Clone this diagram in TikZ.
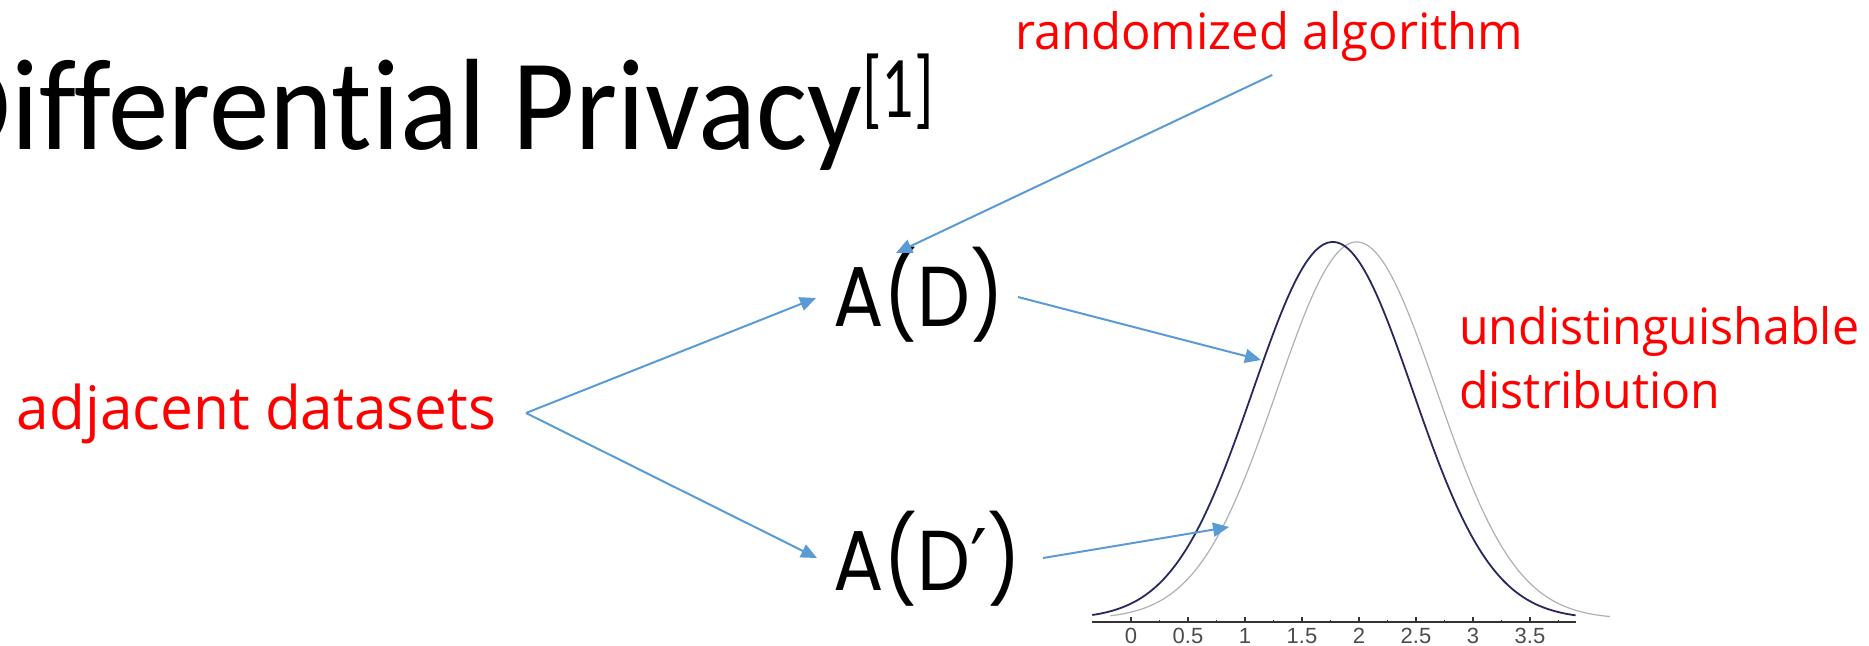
\documentclass[tikz,border=0pt]{standalone}
\usepackage{fontspec}
\setmainfont{Carlito}[Ligatures={NoCommon,NoRare}]
\newfontfamily\labelfont{Open Sans}
\newfontfamily\mechfont{Poppins}
\newfontfamily\axisfont{Liberation Sans}
\newfontfamily\primefont{DejaVu Sans}
\usetikzlibrary{arrows.meta}
\definecolor{arrowblue}{RGB}{91,155,213}
\definecolor{curvedark}{RGB}{40,40,95}
\definecolor{curvelight}{RGB}{175,175,185}

\begin{document}
\begin{tikzpicture}
[
    x=0.5pt, y=-0.5pt,
    every node/.style={inner sep=0pt, outer sep=0pt},
    title/.style={anchor=base west, font=\fontsize{65}{78}\selectfont},
    redlabel/.style={text=red, anchor=base west, font=\labelfont\fontsize{25}{30}\selectfont},
    bigred/.style={redlabel, font=\labelfont\fontsize{30}{36}\selectfont},
    mech/.style={anchor=base west, font=\mechfont\fontsize{42.5}{50}\selectfont},
    link/.style={draw=arrowblue, line width=1pt, -{Triangle[length=8pt,width=7pt]}},
    axisline/.style={draw=black!80, line width=0.7pt},
    ticklabel/.style={anchor=north, text=black!70, font=\axisfont\fontsize{11}{12}\selectfont}
]
    \useasboundingbox (0,0) rectangle (1869,645);
    \clip (0,0) rectangle (1869,645);

    % title
    \node[title] (title) at (-63,149) {\scalebox{0.93}[1]{Differential Privacy\raisebox{16pt}{\scalebox{0.78}[1]{\fontsize{44}{50}\selectfont[1]}}}};

    % red notes
    \node[redlabel] (rand) at (1015,49) {\scalebox{0.98}[1]{randomized algorithm}};
    \node[bigred] (adj) at (17,429) {\scalebox{0.975}[1]{adjacent datasets}};
    \node[redlabel] (undist) at (1459,344) {\scalebox{0.967}[1]{undistinguishable}};
    \node[redlabel] (distr) at (1459,408) {\scalebox{0.967}[1]{distribution}};

    % outputs of the mechanism
    \node[mech] (ad) at (833,326) {\scalebox{0.88}[1]{A(D)}};
    \node[mech] (adp) at (833,590) {\scalebox{0.88}[1]{A(D{\primefont ′})}};

    % the two output distributions
    \begin{scope}[shift={(1131,622)}, x=57pt, y=188.5pt]
        \draw[curvelight, line width=0.6pt] plot[domain=-0.18:4.2, samples=120, smooth] (\x, {0.008+exp(-(\x-1.98)^2/0.98)});
        \draw[curvedark, line width=0.9pt] plot[domain=-0.34:3.9, samples=120, smooth] (\x, {0.008+exp(-(\x-1.77)^2/0.98)});
        \draw[axisline] (-0.34,0) -- (3.9,0);
        \foreach \v in {0,0.5,...,3.5}
            \draw[axisline] (\v,0) -- ++(0pt,2.5pt);
        \foreach \v in {0.25,0.75,...,3.75}
            \draw[axisline] (\v,0) -- ++(0pt,1pt);
        \foreach \v/\t [count=\i] in {0/0,0.5/0.5,1/1,1.5/1.5,2/2,2.5/2.5,3/3,3.5/3.5}
            \node[ticklabel] (tick-\i) at ([yshift=-3pt]\v,0) {\t};
        \coordinate (hit-d) at (1.14,0.695);
        \coordinate (hit-dp) at (0.86,0.252);
    \end{scope}

    % connectors
    \coordinate (fork) at ([shift={(509,-16)}]adj.base west);
    \coordinate (ad-out) at ([shift={(185,-29)}]ad.base west);
    \coordinate (adp-out) at ([shift={(210,-32)}]adp.base west);
    \draw[link] ([shift={(3,26)}]rand.base) -- ([shift={(63,-73)}]ad.base west);
    \draw[link] (fork) -- ([shift={(-17,-28)}]ad.base west);
    \draw[link] (fork) -- ([shift={(-16,-32)}]adp.base west);
    \draw[link] (ad-out) -- (hit-d);
    \draw[link] (adp-out) -- (hit-dp);
\end{tikzpicture}
\end{document}
